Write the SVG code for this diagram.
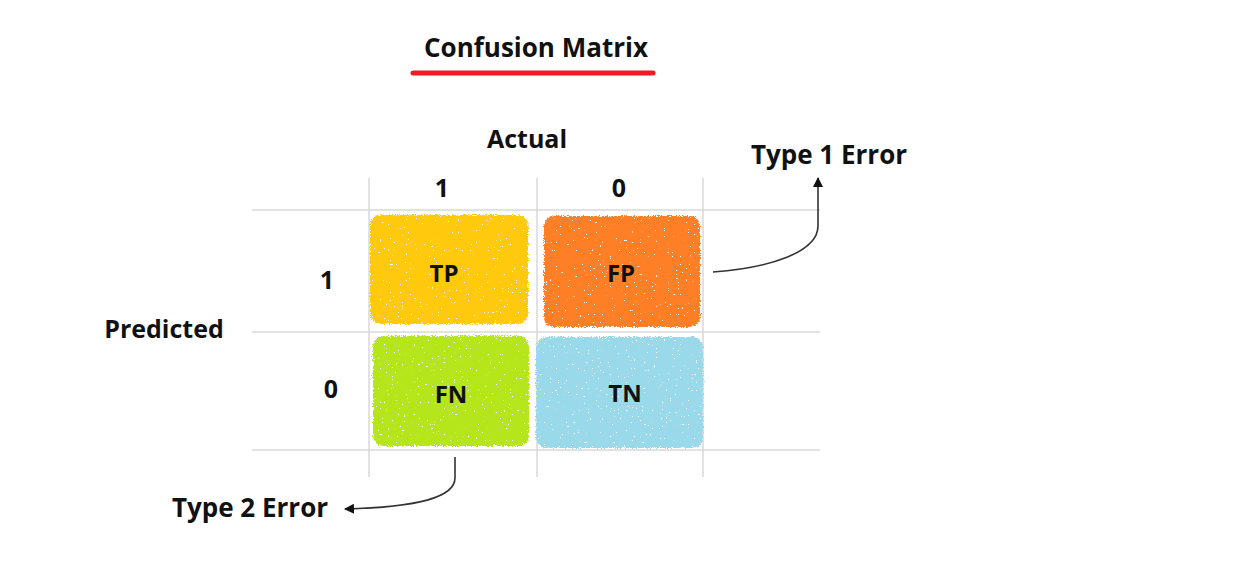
<svg xmlns="http://www.w3.org/2000/svg" width="1239" height="563" viewBox="0 0 1239 563">
<style>
  .t { font-family: "Open Sans", Lato, "Liberation Sans", sans-serif; font-weight: bold; fill: #111; }
  .grid { stroke: #d9d9d9; stroke-width: 1.5; fill: none; }
  .conn { stroke: #333; stroke-width: 1.6; fill: none; marker-end: url(#ah); }
</style>
<defs>
  <marker id="ah" viewBox="0 0 10 10" refX="9" refY="5" markerWidth="10" markerHeight="10" markerUnits="userSpaceOnUse" orient="auto">
    <path d="M0,0 L10,5 L0,10 z" fill="#111"/>
  </marker>
  <filter id="chalk" x="-5%" y="-5%" width="110%" height="110%">
    <feTurbulence type="fractalNoise" baseFrequency="0.9" numOctaves="2" seed="3" result="n"/>
    <feDisplacementMap in="SourceGraphic" in2="n" scale="5" xChannelSelector="R" yChannelSelector="G" result="d"/>
    <feTurbulence type="fractalNoise" baseFrequency="0.5" numOctaves="2" seed="11" result="n2"/>
    <feColorMatrix in="n2" type="matrix" values="0 0 0 0 0  0 0 0 0 0  0 0 0 0 0  -40 0 0 0 30" result="mask"/>
    <feComposite in="d" in2="mask" operator="in"/>
  </filter>
</defs>
<rect width="1239" height="563" fill="#fff"/>

<g id="title">
  <text class="t" x="536" y="57" font-size="26" text-anchor="middle">Confusion Matrix</text>
  <line x1="413" y1="73" x2="653" y2="73" stroke="#ED1C24" stroke-width="5" stroke-linecap="round"/>
</g>

<g id="grid">
  <line class="grid" x1="369" y1="178" x2="369" y2="477"/>
  <line class="grid" x1="537" y1="178" x2="537" y2="477"/>
  <line class="grid" x1="703" y1="178" x2="703" y2="477"/>
  <line class="grid" x1="252" y1="210" x2="820" y2="210"/>
  <line class="grid" x1="252" y1="332" x2="820" y2="332"/>
  <line class="grid" x1="252" y1="450" x2="820" y2="450"/>
</g>

<g id="labels">
  <text class="t" x="527" y="148" font-size="25" text-anchor="middle">Actual</text>
  <text class="t" x="442" y="197" font-size="25" text-anchor="middle">1</text>
  <text class="t" x="619" y="197" font-size="25" text-anchor="middle">0</text>
  <text class="t" x="164" y="338" font-size="25" text-anchor="middle">Predicted</text>
  <text class="t" x="327" y="289" font-size="25" text-anchor="middle">1</text>
  <text class="t" x="331" y="398" font-size="25" text-anchor="middle">0</text>
</g>

<g id="TP">
  <rect x="370" y="215" width="158" height="109" rx="10" fill="#FFC90E" filter="url(#chalk)"/>
  <text class="t" x="444" y="282" font-size="24" text-anchor="middle">TP</text>
</g>
<g id="FP">
  <rect x="544" y="216" width="156" height="111" rx="10" fill="#FF7F27" filter="url(#chalk)"/>
  <text class="t" x="621" y="282" font-size="24" text-anchor="middle">FP</text>
</g>
<g id="FN">
  <rect x="373" y="336" width="156" height="110" rx="10" fill="#B5E61D" filter="url(#chalk)"/>
  <text class="t" x="451" y="403" font-size="24" text-anchor="middle">FN</text>
</g>
<g id="TN">
  <rect x="536" y="337" width="167" height="111" rx="10" fill="#99D9EA" filter="url(#chalk)"/>
  <text class="t" x="625" y="402" font-size="24" text-anchor="middle">TN</text>
</g>

<g id="type1">
  <text class="t" x="829" y="164" font-size="26" text-anchor="middle">Type 1 Error</text>
</g>
<g id="type2">
  <text class="t" x="250" y="517" font-size="26" text-anchor="middle">Type 2 Error</text>
</g>

<g id="connectors">
  <path class="conn" d="M713,272 C770,268 818,252 818,226 L818,178"/>
  <path class="conn" d="M455,457 L455,478 C455,497 420,507 345,509"/>
</g>
</svg>
